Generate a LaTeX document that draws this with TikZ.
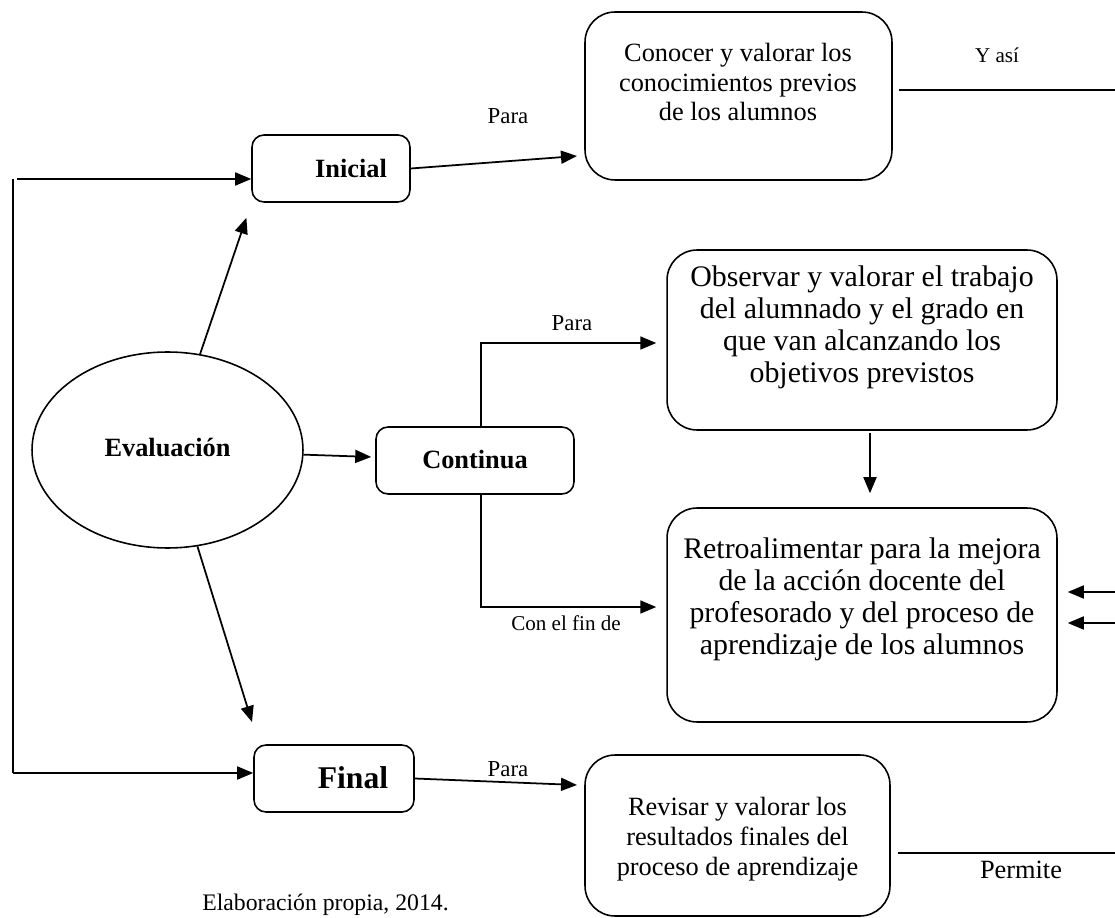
\documentclass[tikz,border=0pt]{standalone}
\usepackage{fontspec}
\setmainfont{Liberation Serif}
\usetikzlibrary{arrows.meta,shapes.geometric}

\begin{document}
\begin{tikzpicture}[x=0.02cm,y=-0.02cm,
    bigbox/.style={draw,line width=0.9pt,rounded corners=0.6cm,inner sep=0pt},
    smallbox/.style={draw,line width=0.9pt,rounded corners=0.24cm,inner sep=0pt},
    txt/.style={align=center,inner sep=0pt,font=\fontsize{15}{17}\selectfont},
    bigtxt/.style={align=center,inner sep=0pt,font=\fontsize{17}{18.2}\selectfont},
    boldtxt/.style={inner sep=0pt,font=\fontsize{15}{17}\selectfont\bfseries},
    labeltxt/.style={inner sep=0pt,font=\fontsize{13}{15}\selectfont},
    line/.style={line width=1pt},
    arr/.style={line width=1pt,-{Triangle[length=0.32cm,width=0.26cm]}}]
    \useasboundingbox (0,0) rectangle (1115,918);

    \node[bigbox,minimum width=6.14cm,minimum height=3.36cm] (conocer) at (738.5,96) {};
    \node[txt] (conocertxt) at (738,82) {Conocer y valorar los\\conocimientos previos\\de los alumnos};

    \node[smallbox,minimum width=3.16cm,minimum height=1.34cm] (inicial) at (331,168.5) {};
    \node[boldtxt] (inicialtxt) at (351,168) {Inicial};

    \node[draw,ellipse,line width=0.9pt,minimum width=5.42cm,minimum height=3.92cm,inner sep=0pt] (evaluacion) at (167.5,450) {};
    \node[boldtxt] (evaluaciontxt) at (167.5,448) {Evaluación};

    \node[smallbox,minimum width=3.96cm,minimum height=1.34cm] (continua) at (475,460.5) {};
    \node[boldtxt] (continuatxt) at (475,460) {Continua};

    \node[smallbox,minimum width=3.2cm,minimum height=1.34cm] (final) at (334,778.5) {};
    \node[boldtxt,font=\fontsize{18}{20}\selectfont\bfseries] (finaltxt) at (353,778) {Final};

    \node[bigbox,minimum width=7.8cm,minimum height=3.6cm] (observar) at (862,340) {};
    \node[bigtxt] (observartxt) at (862,327.5) {Observar y valorar el trabajo\\del alumnado y el grado en\\que van alcanzando los\\objetivos previstos};

    \node[bigbox,minimum width=7.8cm,minimum height=4.28cm] (retro) at (862,615) {};
    \node[bigtxt] (retrotxt) at (862,599) {Retroalimentar para la mejora\\de la acción docente del\\profesorado y del proceso de\\aprendizaje de los alumnos};

    \node[bigbox,minimum width=6.1cm,minimum height=3.22cm] (revisar) at (737.5,835.5) {};
    \node[txt] (revisartxt) at (737.5,839) {Revisar y valorar los\\resultados finales del\\proceso de aprendizaje};

    \coordinate (izqalta) at (17,179);
    \coordinate (izq) at (13,179);
    \coordinate (izqbaja) at (13,773);
    \coordinate (conocerin) at (577,156);
    \coordinate (revisarin) at (577,785);
    \coordinate (yasi) at (1115,90);
    \coordinate (permite) at (1115,853);
    \coordinate (der1) at (1115,592);
    \coordinate (der2) at (1115,623);

    \draw[line] (izq) -- (izqbaja);
    \draw[arr] (izqalta) -- (izqalta -| inicial.west);
    \draw[arr] (izqbaja) -- (izqbaja -| final.west);

    \draw[arr,shorten >=0.1cm] (evaluacion) -- (248,213);
    \draw[arr,shorten >=0.08cm] (evaluacion) -- (continua);
    \draw[arr] (evaluacion) -- (252,722);

    \draw[arr] (inicial.east) -- (conocerin);
    \node[labeltxt] (para1) at (508,116) {Para};
    \draw[arr] (final.east) -- (revisarin);
    \node[labeltxt] (para3) at (508,769) {Para};

    \draw[arr,shorten >=0.2cm] ([xshift=0.12cm]continua.north) |- ([yshift=-0.06cm]observar.west);
    \node[labeltxt] (para2) at (572,323) {Para};
    \draw[arr,shorten >=0.2cm] ([xshift=0.12cm]continua.south) |- ([yshift=0.16cm]retro.west);
    \node[labeltxt,font=\fontsize{12}{14}\selectfont] (confin) at (566,623) {Con el fin de};

    \draw[arr,shorten >=0.28cm,shorten <=0.04cm] ([xshift=0.16cm]observar.south) -- ([xshift=0.16cm]retro.north);

    \draw[arr,shorten >=0.2cm] (der1) -- (der1 -| retro.east);
    \draw[arr,shorten >=0.2cm] (der2) -- (der2 -| retro.east);

    \draw[line] ([xshift=0.12cm]conocer.east |- yasi) -- (yasi);
    \node[labeltxt,font=\fontsize{12}{14}\selectfont] (yasitxt) at (997,55) {Y así};
    \draw[line] ([xshift=0.14cm]revisar.east |- permite) -- (permite);
    \node[txt] (permitetxt) at (1021,870) {Permite};

    \node[labeltxt,font=\fontsize{13.5}{15}\selectfont] (fuente) at (325.5,905) {Elaboración propia, 2014.};
\end{tikzpicture}
\end{document}
